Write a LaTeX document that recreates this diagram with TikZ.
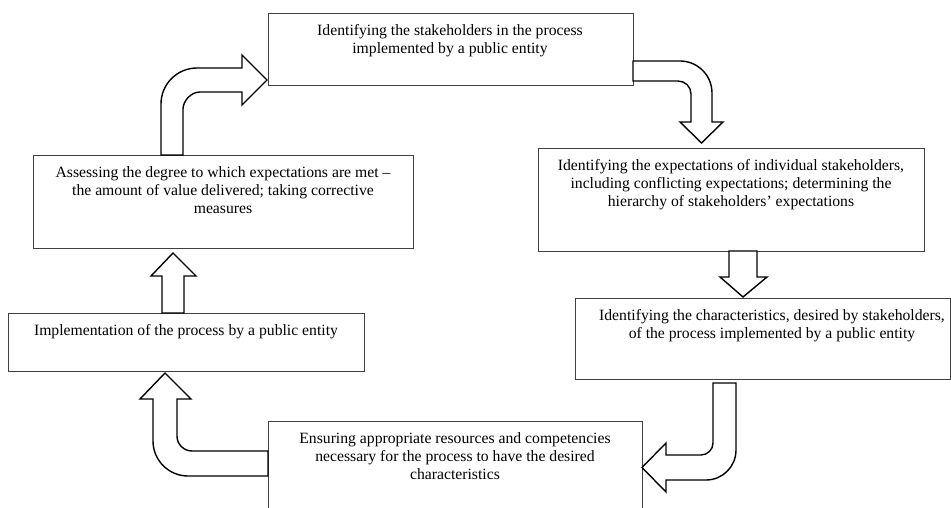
\documentclass[tikz,border=0pt]{standalone}
\usepackage{fontspec}
\setmainfont{Liberation Serif}
\begin{document}
\begin{tikzpicture}[x=1pt,y=-1pt,
  box/.style={draw=black!75, line width=0.9pt, inner sep=0pt, anchor=north west},
  lbl/.style={font=\fontsize{15.7}{18}\selectfont, align=center, inner sep=0pt, anchor=north},
  blockarrow/.style={draw=black, line width=1.4pt, fill=white, line join=miter}]
\useasboundingbox (0,0) rectangle (951,508);
\clip (0,0) rectangle (951,508);

% boxes
\node[box, minimum width=365pt, minimum height=72pt]  (b1) at (268,13)  {};
\node[box, minimum width=386pt, minimum height=103pt] (b2) at (538,148) {};
\node[box, minimum width=375pt, minimum height=81pt]  (b3) at (575,298) {};
\node[box, minimum width=374pt, minimum height=100pt] (b4) at (268,421) {};
\node[box, minimum width=356pt, minimum height=58pt]  (b5) at (8,313)   {};
\node[box, minimum width=380pt, minimum height=93pt]  (b6) at (33,155)  {};

% texts
\node[lbl] (t1) at (450,24) {Identifying the stakeholders in the process\\implemented by a public entity};
\node[lbl] (t2) at (731,159) {Identifying the expectations of individual stakeholders,\\including conflicting expectations; determining the\\hierarchy of stakeholders’ expectations};
\node[lbl] (t3) at (772,309) {Identifying the characteristics, desired by stakeholders,\\of the process implemented by a public entity};
\node[lbl] (t4) at (455,432) {Ensuring appropriate resources and competencies\\necessary for the process to have the desired\\characteristics};
\node[lbl] (t5) at (186,324) {Implementation of the process by a public entity};
\node[lbl] (t6) at (223,166) {Assessing the degree to which expectations are met --\\the amount of value delivered; taking corrective\\measures};

% arrow b6 -> b1
\draw[blockarrow] (161,155) -- (161,104) .. controls (161,84.1) and (177.1,68) .. (197,68)
  -- (242,68) -- (242,55) -- (267,80) -- (242,105) -- (242,92) -- (200,92)
  .. controls (190.6,92) and (183,101.4) .. (183,109) -- (183,155) -- cycle;

% arrow b1 -> b2
\draw[blockarrow] (633,61) -- (680,61) .. controls (697.7,61) and (712,75.3) .. (712,93)
  -- (712,122) -- (723,122) -- (701.5,143) -- (680,122) -- (691,122) -- (691,94)
  .. controls (691,86.8) and (685.2,81) .. (678,81) -- (633,81) -- cycle;

% arrow b2 -> b3
\draw[blockarrow] (729,251) -- (757,251) -- (757,277) -- (767,277) -- (743,297)
  -- (720,277) -- (729,277) -- cycle;

% arrow b3 -> b4
\draw[blockarrow] (713,383) -- (736,383) -- (736,450) .. controls (736,466.6) and (722.6,480) .. (706,480)
  -- (666,480) -- (666,492) -- (642,467.5) -- (666,443) -- (666,455) -- (701,455)
  .. controls (707.6,455) and (713,449.6) .. (713,443) -- cycle;

% arrow b4 -> b5
\draw[blockarrow] (268,451) -- (192,451) .. controls (183.7,451) and (177,444.3) .. (177,436)
  -- (177,399) -- (191,399) -- (165,373) -- (140,399) -- (153,399) -- (153,441)
  .. controls (153,460.3) and (168.7,476) .. (188,476) -- (268,476) -- cycle;

% arrow b5 -> b6
\draw[blockarrow] (162,313) -- (162,276) -- (151,276) -- (173,253) -- (196,276)
  -- (184,276) -- (184,313) -- cycle;
\end{tikzpicture}
\end{document}
